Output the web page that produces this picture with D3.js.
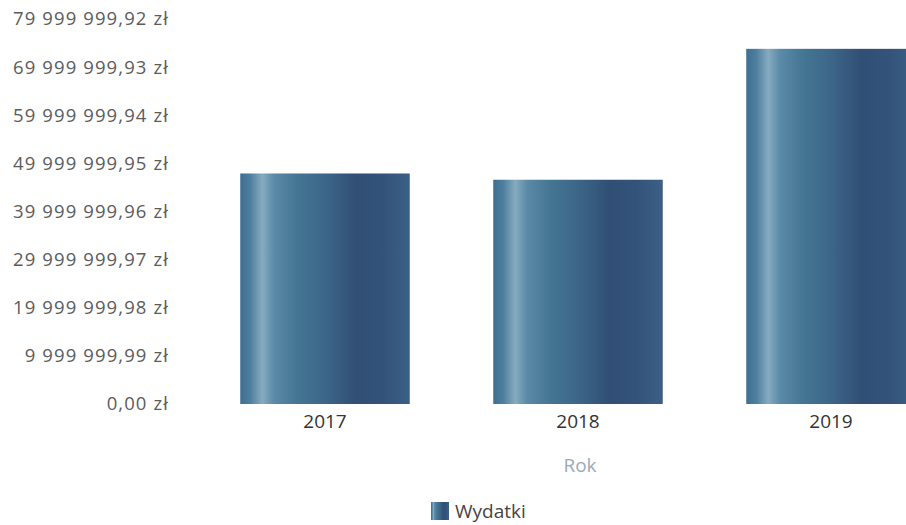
<!DOCTYPE html>
<html><head><meta charset="utf-8">
<script src="https://cdn.jsdelivr.net/npm/d3@7"></script>
<style>body{margin:0;background:#fff;overflow:hidden}svg{display:block}text{font-family:"Open Sans","Noto Sans",sans-serif}</style>
</head><body>
<script>
const categories = ["2017", "2018", "2019"];
const values = [47900000, 46600000, 73800000];
const tickValues = [0, 9999999.99, 19999999.98, 29999999.97, 39999999.96, 49999999.95, 59999999.94, 69999999.93, 79999999.92];
const seriesName = "Wydatki";
const xTitle = "Rok";

const W = 906, H = 525;
const svg = d3.select("body").append("svg").attr("width", W).attr("height", H);

const defs = svg.append("defs");
const grad = defs.append("linearGradient").attr("id", "barGrad").attr("x1", "0%").attr("x2", "100%").attr("y1", "0%").attr("y2", "0%");
[[0, "#3f6f90"], [0.06, "#4f7f9e"], [0.13, "#86abc0"], [0.2, "#5a8aa7"], [0.33, "#457694"], [0.5, "#3c6689"], [0.68, "#314f75"], [0.85, "#34537b"], [1, "#3b6085"]]
  .forEach(([o, c]) => grad.append("stop").attr("offset", o).attr("stop-color", c));

const y = d3.scaleLinear().domain([0, 79999999.92]).range([404, 19]);
const x = d3.scaleBand().domain(categories).range([198.5, 957.5]).paddingInner(0.33).paddingOuter(0.165);

const fmt = v => {
  const s = v.toFixed(2).split(".");
  const intPart = s[0].replace(/\B(?=(\d{3})+(?!\d))/g, " ");
  return intPart + "," + s[1] + " zł";
};

const yAxis = svg.append("g").attr("transform", "translate(169,0)")
  .call(d3.axisLeft(y).tickValues(tickValues).tickFormat(fmt).tickSize(0).tickPadding(0));
yAxis.select(".domain").remove();
yAxis.selectAll("text").attr("fill", "#5c5c5c").attr("font-size", "18.5px").attr("letter-spacing", "1.1px");

svg.append("g").selectAll("rect").data(values).join("rect")
  .attr("x", (d, i) => x(categories[i]))
  .attr("y", d => y(d))
  .attr("width", x.bandwidth())
  .attr("height", d => y(0) - y(d))
  .attr("fill", "url(#barGrad)");

const xAxis = svg.append("g").attr("transform", "translate(0,404)")
  .call(d3.axisBottom(x).tickSize(0).tickPadding(11));
xAxis.select(".domain").remove();
xAxis.selectAll("text").attr("fill", "#333").attr("font-size", "19px");

svg.append("text").attr("x", 580).attr("y", 472).attr("text-anchor", "middle")
  .attr("fill", "#9aaab8").attr("font-size", "19px").text(xTitle);

const leg = svg.append("g").attr("transform", "translate(431,502)");
leg.append("rect").attr("width", 18).attr("height", 18).attr("fill", "url(#barGrad)");
leg.append("text").attr("x", 24).attr("y", 16).attr("fill", "#444").attr("font-size", "19px").text(seriesName);
</script>
</body></html>
